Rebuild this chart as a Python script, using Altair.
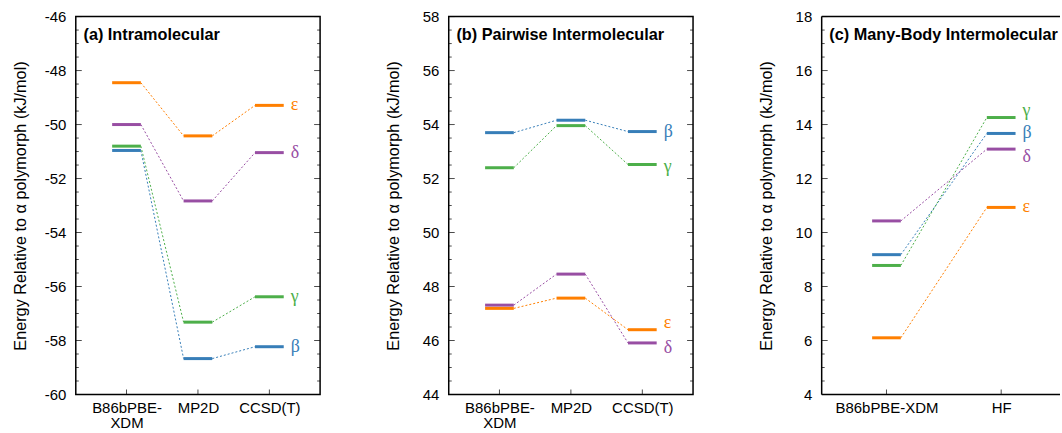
import altair as alt
import pandas as pd
import numpy as np

POLYMORPHS = ["β", "γ", "δ", "ε"]
COLORS = ["#377eb8", "#4daf4a", "#984ea3", "#ff7f00"]

# ---- panel (a) Intramolecular ----
methods_a = ["B86bPBE-|XDM", "MP2D", "CCSD(T)"]
beta_a = [-50.96, -58.67, -58.23]
gamma_a = [-50.80, -57.32, -56.38]
delta_a = [-50.00, -52.83, -51.04]
eps_a = [-48.45, -50.42, -49.29]

# ---- panel (b) Pairwise Intermolecular ----
methods_b = ["B86bPBE-|XDM", "MP2D", "CCSD(T)"]
beta_b = [53.70, 54.16, 53.74]
gamma_b = [52.40, 53.96, 52.52]
delta_b = [47.31, 48.46, 45.91]
eps_b = [47.19, 47.57, 46.40]

# ---- panel (c) Many-Body Intermolecular ----
methods_c = ["B86bPBE-XDM", "HF"]
beta_c = [9.18, 13.67]
gamma_c = [8.78, 14.26]
delta_c = [10.43, 13.09]
eps_c = [6.10, 10.93]

yticks_a = [-60, -58, -56, -54, -52, -50, -48, -46]
yticks_b = [44, 46, 48, 50, 52, 54, 56, 58]
yticks_c = [4, 6, 8, 10, 12, 14, 16, 18]

W, H = 245, 379
BAR_HALF_PX = 14.4
FONT = "Liberation Sans"
YTITLE = "Energy Relative to α polymorph (kJ/mol)"


def panel(title, methods, series, yticks, x_domain, nudges, width=W, full=True):
    n = len(methods)
    pxu = W / (x_domain[1] - x_domain[0])
    dom = [x_domain[0], x_domain[0] + width / pxu]
    hw = BAR_HALF_PX / pxu
    ymin, ymax = yticks[0], yticks[-1]
    bars, segs, labs = [], [], []
    for p, vals in zip(POLYMORPHS, series):
        for i, v in enumerate(vals):
            x = i + 1
            bars.append({"p": p, "xl": x - hw, "xr": x + hw, "v": v})
            if i < n - 1:
                segs.append({"p": p, "x1": x + hw, "y1": v,
                             "x2": x + 1 - hw, "y2": vals[i + 1]})
        dy = nudges.get(p, 0)
        labs.append({"p": p, "x": n + hw, "v": vals[-1] - dy * (ymax - ymin) / H})
    bars, segs, labs = pd.DataFrame(bars), pd.DataFrame(segs), pd.DataFrame(labs)

    xs = alt.Scale(domain=dom, nice=False, zero=False)
    ys = alt.Scale(domain=[ymin, ymax], nice=False, zero=False)
    color = alt.Color("p:N", scale=alt.Scale(domain=POLYMORPHS, range=COLORS), legend=None)

    expr = "''"
    for i in range(n - 1, -1, -1):
        expr = f"datum.value == {i + 1} ? split('{methods[i]}', '|') : ({expr})"

    xaxis = alt.Axis(values=list(range(1, n + 1)), labelExpr=expr, ticks=False, domain=False,
                     grid=False, labelPadding=6, labelFontSize=15, labelLineHeight=15,
                     labelFont=FONT, labelColor="black", title=None, labelOverlap=False)
    yaxis = alt.Axis(values=yticks, ticks=False, domain=False, grid=False, labelPadding=10,
                     labelExpr="datum.value < 0 ? '-' + abs(datum.value) : '' + datum.value",
                     labelFontSize=15, labelFont=FONT, labelColor="black", title=YTITLE,
                     titleFontSize=16.3, titleFont=FONT, titleFontWeight="normal",
                     titleColor="black", titleX=-55, titleBaseline="middle")

    def X(f):
        return alt.X(f, scale=xs, axis=xaxis)

    def Y(f):
        return alt.Y(f, scale=ys, axis=yaxis)

    bar_layer = alt.Chart(bars).mark_rule(strokeWidth=3).encode(
        x=X("xl:Q"), x2="xr:Q", y=Y("v:Q"), color=color)
    seg_layer = alt.Chart(segs).mark_rule(strokeWidth=1, strokeDash=[2, 2]).encode(
        x=X("x1:Q"), x2="x2:Q", y=Y("y1:Q"), y2="y2:Q", color=color)
    lab_layer = alt.Chart(labs).mark_text(align="left", baseline="middle", dx=7,
                                          font="Liberation Serif", fontSize=18).encode(
        x=X("x:Q"), y=Y("v:Q"), text="p:N", color=color)

    major = pd.DataFrame({"t": yticks})
    minor = pd.DataFrame({"t": [t for t in np.arange(ymin, ymax + 0.01, 0.5) if t not in yticks]})
    cats = pd.DataFrame({"c": list(range(1, n + 1))})
    tick_layers = []
    for df, size in [(major, 6), (minor, 3)]:
        sides = [size / 2, width - size / 2] if full else [size / 2]
        for xpos in sides:
            tick_layers.append(alt.Chart(df).mark_tick(orient="horizontal", size=size,
                                                       thickness=1, color="black").encode(
                y=Y("t:Q"), x=alt.value(xpos)))
    tick_layers.append(alt.Chart(cats).mark_tick(orient="vertical", size=5, thickness=1,
                                                 color="black").encode(
        x=X("c:Q"), y=alt.value(H - 2.5)))

    title_layer = alt.Chart(pd.DataFrame({"t": [title]})).mark_text(
        align="left", baseline="middle", font=FONT, fontSize=16.3, fontWeight="bold",
        color="black", clip=True).encode(text="t:N", x=alt.value(7.7), y=alt.value(19))

    layers = [bar_layer, seg_layer, lab_layer, *tick_layers, title_layer]
    props = dict(width=width, height=H)
    if not full:
        one = pd.DataFrame({"k": [0]})
        fr = alt.Chart(one).mark_rule(color="black", strokeWidth=1.5)
        layers += [
            fr.encode(x=alt.value(0), y=alt.value(0), y2=alt.value(H)),
            fr.encode(x=alt.value(0), x2=alt.value(width), y=alt.value(0)),
            fr.encode(x=alt.value(0), x2=alt.value(width), y=alt.value(H)),
        ]
        props["view"] = alt.ViewBackground(stroke="transparent")
    return alt.layer(*layers).properties(**props)


pa = panel("(a) Intramolecular", methods_a, [beta_a, gamma_a, delta_a, eps_a], yticks_a,
           (0.29, 3.71), {})
pb = panel("(b) Pairwise Intermolecular", methods_b, [beta_b, gamma_b, delta_b, eps_b], yticks_b,
           (0.29, 3.71), {"γ": 3, "δ": 5, "ε": -7})
pc = panel("(c) Many-Body Intermolecular", methods_c, [beta_c, gamma_c, delta_c, eps_c], yticks_c,
           (0.435, 2.565), {"γ": -7, "δ": 8}, width=239, full=False)

chart = alt.hconcat(pa, pb, pc, spacing=129, bounds="flush").configure_view(
    stroke="black", strokeWidth=1.5).properties(
    padding={"left": 12, "top": 8, "right": 0, "bottom": 0})

chart.save("out.html", embed_options={"renderer": "svg", "actions": False})
